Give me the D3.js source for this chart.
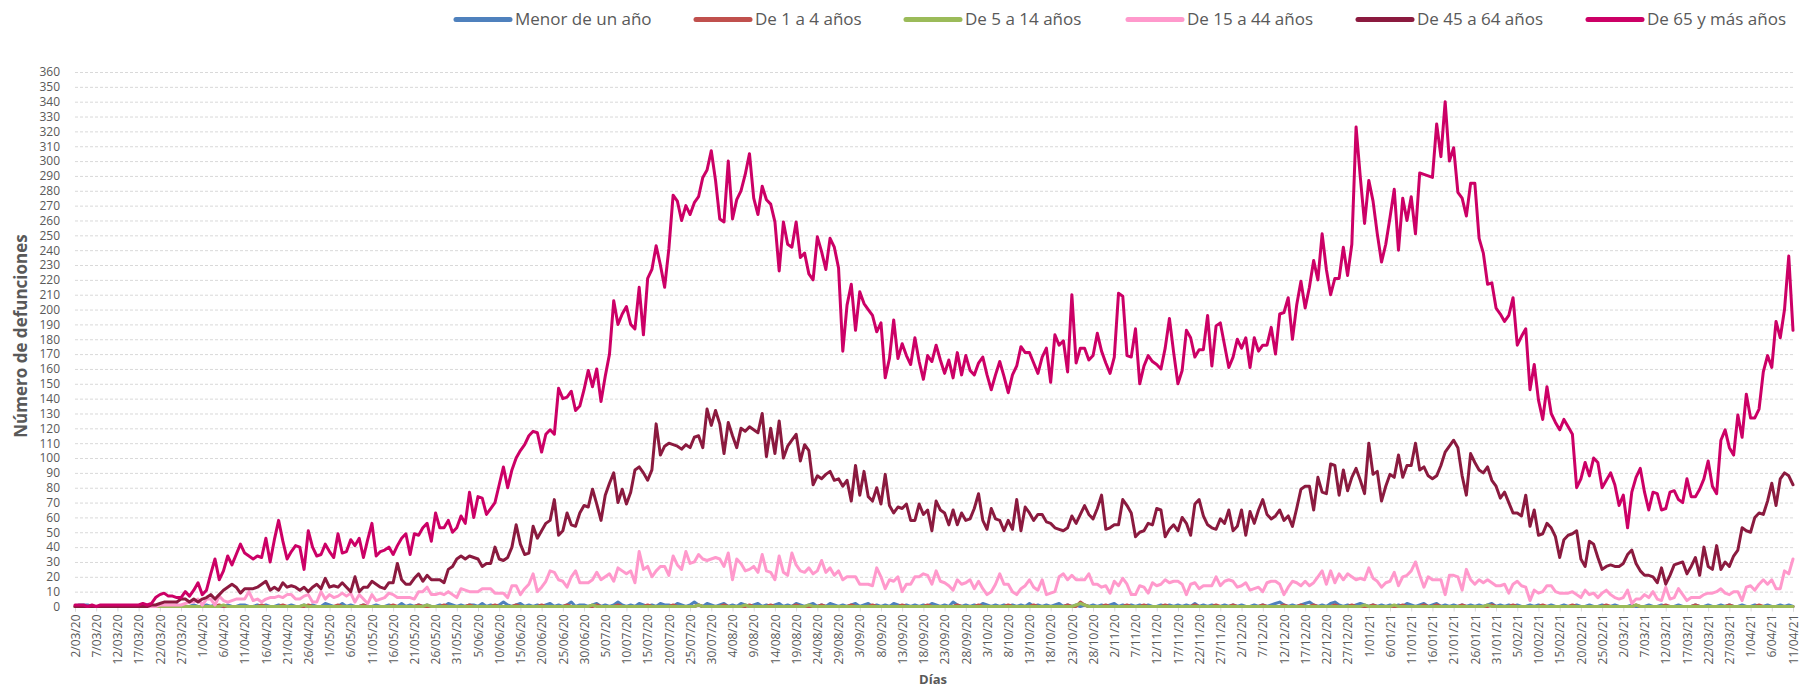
<!DOCTYPE html>
<html>
<head>
<meta charset="utf-8">
<script src="https://cdn.jsdelivr.net/npm/d3@7"></script>
<style>
  body { margin: 0; background: #fff; }
  text { font-family: "Open Sans", "Noto Sans", sans-serif; fill: #595959; }
</style>
</head>
<body>
<svg width="1801" height="687"></svg>
<script>
// first day of the series, one point per day
var startDate = new Date(2020, 2, 2);

var seriesNames = ["Menor de un año", "De 1 a 4 años", "De 5 a 14 años",
  "De 15 a 44 años", "De 45 a 64 años", "De 65 y más años"];
var seriesColors = ["#4f81bd", "#c0504d", "#9bbb59", "#ff99cc", "#8b1a3f", "#cc0066"];

var yTicks = d3.range(0, 361, 10);

var menorUnAno = [
  0,1,1,1,0,0,0,0,0,0, 0,0,0,0,0,0,0,0,0,0, 0,0,0,0,1,0,0,0,1,0, 0,1,0,1,0,0,1,0,0,1,
  1,0,0,1,0,1,0,0,1,0, 0,1,0,0,1,0,1,0,0,2, 1,0,0,2,0,1,0,0,1,0, 0,1,0,0,1,0,0,2,0,1,
  0,1,0,1,0,0,1,0,2,1, 0,1,0,1,1,0,2,0,1,0, 1,3,1,0,1,2,0,1,0,1, 0,1,2,0,1,0,1,3,0,1,
  1,0,1,2,0,1,0,1,3,1, 0,1,0,2,1,0,1,0,2,1, 1,0,2,1,0,1,3,1,0,2, 1,0,1,2,0,1,0,2,1,0,
  1,2,0,1,0,1,2,0,1,0, 2,1,0,1,2,0,1,0,2,1, 0,1,0,1,2,0,1,2,0,1, 0,1,0,2,1,0,1,0,1,0,
  1,0,2,1,0,1,0,3,1,0, 1,0,1,0,2,1,0,1,0,1, 0,1,0,1,0,2,0,1,0,1, 0,1,2,0,1,0,1,0,1,0,
  1,0,1,0,1,2,0,1,0,1, 0,1,0,1,0,0,1,0,1,0, 1,0,1,0,2,0,1,0,1,0, 0,1,0,1,0,1,0,0,1,0,
  1,0,1,2,3,1,0,1,0,1, 2,3,1,0,1,0,2,3,1,0, 1,0,1,2,1,0,1,0,1,0, 1,0,1,0,2,1,0,1,2,0,
  1,2,0,1,0,1,0,1,0,1, 0,1,0,1,2,0,1,0,1,0, 1,0,0,1,0,1,0,0,1,0, 0,1,0,0,1,0,0,1,0,0,
  1,0,0,1,0,0,0,1,0,0, 0,1,0,0,1,0,0,0,1,0, 0,0,1,0,0,1,0,0,1,0, 1,0,0,1,0,0,1,0,0,1,
  0,0,1,0,1,0
];

var de1a4 = [
  0,0,0,0,0,0,0,0,0,0, 0,0,0,0,0,0,0,0,0,0, 0,0,0,0,0,0,0,0,0,0, 0,0,0,0,1,0,0,0,0,0,
  0,0,0,0,1,0,0,0,0,1, 0,0,0,0,0,1,0,0,0,0, 0,0,1,0,0,0,0,0,1,0, 0,0,0,0,0,1,0,0,0,0,
  0,1,0,0,0,0,0,1,0,0, 0,0,0,1,0,0,0,0,0,1, 0,0,0,0,1,0,0,0,0,0, 1,0,0,0,0,0,1,0,0,0,
  0,0,0,1,0,0,0,0,1,0, 0,0,0,0,0,1,0,0,0,0, 0,1,0,0,0,0,0,1,0,0, 0,0,0,1,0,0,0,0,0,1,
  0,0,0,0,1,0,0,0,0,0, 1,0,0,0,0,0,1,0,0,0, 0,0,0,1,0,0,0,0,1,0, 0,0,0,0,0,1,0,0,0,0,
  0,1,0,0,0,0,0,0,1,0, 0,0,0,1,0,0,0,0,0,0, 1,0,0,0,0,0,1,0,0,0, 0,0,0,0,1,0,0,3,1,0,
  0,0,0,1,0,0,0,0,1,0, 0,0,1,0,0,0,0,1,0,0, 0,0,0,0,1,0,0,0,0,1, 0,0,0,1,0,0,0,0,0,0,
  1,0,0,0,0,1,0,0,0,1, 0,0,1,0,0,0,0,1,0,0, 0,1,0,0,0,0,1,0,0,0, 0,0,0,1,0,0,0,0,1,0,
  0,1,0,0,0,0,0,1,0,0, 0,0,0,0,1,0,0,0,0,1, 0,0,0,0,0,0,1,0,0,0, 0,0,0,1,0,0,0,0,0,0,
  0,1,0,0,0,0,0,0,1,0, 0,0,0,0,0,1,0,0,0,0, 0,0,1,0,0,0,0,0,0,0, 1,0,0,0,0,0,0,1,0,0,
  0,0,0,0,0,0
];

var de5a14 = [
  0,0,0,0,0,0,0,0,0,0, 0,0,0,0,0,0,0,0,0,0, 0,0,0,0,0,0,0,0,0,0, 0,0,0,0,0,1,0,0,0,0,
  0,0,0,0,0,0,0,0,0,0, 0,0,0,0,1,0,0,0,0,0, 0,0,0,0,0,0,0,0,0,0, 0,0,0,0,0,0,0,0,0,0,
  0,0,0,1,0,0,0,0,0,0, 0,0,0,0,0,0,0,0,0,0, 0,0,0,0,0,0,0,0,0,0, 0,0,0,0,0,0,0,0,0,0,
  0,0,1,0,0,0,0,0,0,0, 0,0,0,0,0,0,0,0,0,0, 0,0,0,0,0,0,0,1,0,0, 0,0,0,0,0,0,0,0,1,0,
  0,0,0,0,0,0,0,0,0,0, 0,0,0,1,0,0,0,0,0,0, 0,0,0,0,0,0,0,0,0,0, 0,0,0,0,0,0,0,0,0,0,
  0,0,0,0,0,0,0,0,0,0, 0,0,0,0,0,0,0,0,0,0, 0,0,0,0,0,0,0,0,0,0, 0,0,0,0,0,0,1,2,1,0,
  0,0,0,0,0,0,0,0,0,0, 0,0,0,0,0,0,0,0,0,0, 0,0,0,0,0,0,0,0,0,0, 0,0,0,0,0,0,0,0,0,0,
  0,0,0,0,0,0,0,0,0,0, 0,0,0,0,0,0,0,0,0,0, 0,0,0,0,1,0,0,0,0,0, 0,1,0,0,0,0,0,0,0,0,
  0,0,0,0,0,0,0,0,0,0, 0,0,0,1,0,0,0,0,0,0, 0,0,0,0,0,0,0,0,0,0, 0,0,0,0,0,0,0,0,0,0,
  0,0,0,0,0,0,0,0,1,0, 0,0,0,0,0,0,0,0,0,0, 0,0,0,0,0,0,0,0,0,0, 0,0,0,0,0,0,0,0,0,0,
  0,0,0,0,0,0
];

var de15a44 = [
  0,0,0,0,0,0,0,0,0,0, 0,0,0,0,0,0,0,0,0,0, 1,1,1,1,1,1,2,3,3,5, 1,5,5,1,7,4,3,4,5,5,
  5,10,4,5,3,5,6,6,7,6, 8,8,5,5,7,8,3,3,10,5, 8,6,7,9,7,9,3,8,5,2, 8,4,5,6,9,8,6,6,6,6,
  5,10,10,13,8,8,9,8,10,8, 6,12,11,10,10,10,12,12,12,9, 9,9,6,14,14,8,12,15,22,10, 13,17,24,23,18,17,13,20,24,16,
  16,16,18,23,18,20,22,17,26,24, 22,24,16,37,25,27,20,24,27,27, 21,34,28,25,37,29,30,35,32,31, 32,33,32,27,36,18,32,29,24,25,
  27,23,35,24,23,18,34,23,21,36, 28,24,23,26,22,24,31,23,26,21, 24,18,20,20,20,15,15,15,14,26, 20,12,18,17,20,10,15,15,20,20,
  22,21,15,24,17,16,14,11,18,15, 16,18,12,17,12,8,10,15,22,15, 15,10,8,12,14,18,13,11,18,8, 9,10,20,22,18,21,18,18,18,22,
  15,15,13,14,9,17,14,19,15,8, 8,14,13,9,16,14,15,18,16,17, 17,15,8,15,16,12,14,14,14,20, 14,17,18,17,13,14,16,11,12,13,
  10,16,17,17,15,8,13,17,16,14, 17,14,16,20,24,15,24,16,22,18, 22,20,18,19,18,26,19,17,13,16, 17,23,14,20,21,24,30,21,13,20,
  18,18,18,8,21,21,20,11,25,18, 15,18,16,18,16,14,14,15,9,15, 17,14,13,4,11,9,10,14,14,10, 9,9,9,10,8,6,11,8,9,6,
  9,11,8,6,5,6,11,2,5,5, 8,6,10,5,4,13,5,6,12,8, 4,6,6,6,8,9,9,10,12,9, 8,10,10,4,13,14,11,15,18,15,
  18,12,12,24,22,32
];

var de45a64 = [
  0,0,0,0,0,0,0,0,0,0, 0,0,0,0,0,0,0,0,1,1, 2,3,3,3,3,5,5,3,5,3, 5,6,8,5,8,11,13,15,13,9,
  12,12,12,13,15,17,11,13,11,16, 13,14,13,11,13,10,13,15,12,19, 13,14,13,16,13,10,20,10,13,13, 17,15,13,12,16,16,29,18,15,15,
  19,22,17,21,18,18,18,16,25,27, 32,34,32,34,33,32,27,29,29,40, 32,31,33,40,55,42,35,36,54,46, 51,56,58,72,48,51,63,55,54,63,
  68,67,79,69,58,75,83,90,70,79, 69,77,92,94,90,85,92,123,102,108, 110,109,108,106,109,107,114,115,107,133, 122,132,123,103,124,115,107,120,118,121,
  119,117,130,101,120,103,125,100,108,112, 116,98,109,105,82,88,86,89,91,85, 86,81,85,71,95,75,91,74,71,80, 69,89,68,63,67,66,69,58,58,69,
  62,65,51,71,65,63,55,65,55,63, 58,59,66,76,58,52,66,59,58,51, 58,52,72,51,67,63,58,62,62,57, 56,53,52,51,53,61,56,62,68,62,
  59,66,75,52,53,55,55,72,68,63, 47,50,51,56,55,66,65,47,52,55, 51,60,56,48,69,72,61,55,53,52, 59,56,65,51,54,65,48,64,56,65,
  72,62,59,61,65,58,61,54,66,79, 81,81,65,87,77,76,96,95,75,92, 78,87,93,85,76,110,89,91,71,81, 89,87,102,87,95,95,110,92,94,88,
  86,88,95,104,108,112,107,88,75,103, 97,92,90,94,85,81,73,77,70,63, 63,61,75,54,65,48,49,56,53,47, 33,45,48,49,51,32,27,44,42,33,
  25,27,28,27,27,29,35,38,29,24, 21,21,20,16,26,15,21,28,29,30, 22,27,33,21,40,27,25,41,25,30, 27,34,38,53,51,50,60,63,62,71,
  83,68,86,90,88,82
];

var de65mas = [
  1,1,1,0,1,0,1,1,1,1, 1,1,1,1,1,1,2,1,2,6, 8,9,7,7,6,6,10,7,11,16, 8,11,22,32,18,24,34,28,35,42,
  36,34,32,34,33,46,30,45,58,44, 32,37,41,40,25,51,40,34,35,42, 37,33,49,36,37,45,41,46,33,45, 56,34,37,38,40,35,41,46,49,35,
  49,48,53,56,44,63,53,53,58,50, 53,61,56,77,60,74,73,62,66,70, 82,94,80,92,100,105,109,115,118,117, 104,116,119,116,147,140,141,145,132,135,
  146,159,148,160,138,155,170,206,190,197, 202,190,187,215,183,221,227,243,230,215, 241,277,273,260,270,264,272,276,289,294, 307,287,261,259,300,261,274,280,291,305,
  275,264,283,274,271,259,226,259,244,242, 259,235,238,224,220,249,239,227,248,242, 228,172,203,217,186,212,204,200,196,185, 191,154,167,193,167,177,169,163,181,165,
  153,169,165,176,166,157,166,154,171,156, 169,159,156,164,168,156,146,156,165,155, 144,156,162,175,171,171,164,157,168,174, 151,183,176,179,158,210,164,174,174,166,
  169,184,172,164,157,168,211,209,169,168, 187,150,162,169,165,163,160,174,194,171, 150,159,186,181,168,173,173,196,162,189, 191,176,161,168,180,174,181,161,181,172,
  176,176,188,170,197,198,208,180,203,219, 201,215,233,220,251,227,210,221,221,242, 223,244,323,289,258,287,273,251,232,244, 262,281,240,275,260,276,251,292,291,290,
  289,325,303,340,300,309,279,275,263,285, 285,248,238,217,218,201,197,192,196,208, 176,182,187,146,163,139,126,148,130,124, 119,126,121,116,80,86,97,88,100,97,
  80,85,90,82,68,75,53,77,87,93, 77,65,77,76,65,66,77,78,72,70, 86,74,74,79,86,98,81,76,112,119, 107,102,129,114,143,127,127,133,158,169,
  161,192,181,200,236,186
];

var allSeries = [menorUnAno, de1a4, de5a14, de15a44, de45a64, de65mas];

var dates = de65mas.map(function (d, i) { return d3.timeDay.offset(startDate, i); });
var fmt = d3.timeFormat("%-d/%m/%y");

var svg = d3.select("svg");
var plotLeft = 75, plotRight = 1793, plotTop = 72, plotBottom = 606.5;

var x = d3.scaleLinear().domain([0, dates.length - 1]).range([plotLeft, plotRight]);
var y = d3.scaleLinear().domain([0, 360]).range([plotBottom, plotTop]);

// grid lines
var grid = svg.append("g")
  .attr("transform", "translate(" + plotLeft + ",0)")
  .call(d3.axisLeft(y).tickValues(yTicks.slice(1)).tickSize(-(plotRight - plotLeft)).tickFormat(""));
grid.select(".domain").remove();
grid.selectAll("line")
  .attr("stroke", "#d9d9d9")
  .attr("stroke-dasharray", "3,2");

// y axis labels
var yAxis = svg.append("g")
  .attr("transform", "translate(" + plotLeft + ",0)")
  .call(d3.axisLeft(y).tickValues(yTicks).tickSize(0).tickPadding(15));
yAxis.select(".domain").remove();
yAxis.selectAll("text")
  .style("font-size", "12px")
  .style("fill", "#595959");

// x axis
var xAxis = svg.append("g")
  .attr("transform", "translate(0," + plotBottom + ")")
  .call(d3.axisBottom(x)
    .tickValues(d3.range(0, dates.length, 5))
    .tickSizeOuter(0)
    .tickSize(5)
    .tickFormat(function (i) { return fmt(dates[i]); }));
xAxis.select(".domain").attr("stroke", "#d9d9d9");
xAxis.selectAll("line").attr("stroke", "#d9d9d9");
xAxis.selectAll("text")
  .attr("transform", "rotate(-90)")
  .attr("text-anchor", "end")
  .attr("x", -8)
  .attr("y", 0)
  .attr("dy", "0.35em")
  .style("font-size", "12px")
  .style("fill", "#595959");

// lines
var line = d3.line()
  .x(function (d, i) { return x(i); })
  .y(function (d) { return y(d); });

svg.append("g")
  .selectAll("path")
  .data(allSeries)
  .enter()
  .append("path")
  .attr("d", line)
  .attr("fill", "none")
  .attr("stroke", function (d, i) { return seriesColors[i]; })
  .attr("stroke-width", 3)
  .attr("stroke-linejoin", "round")
  .attr("stroke-linecap", "round");

// axis titles
svg.append("text")
  .attr("text-anchor", "middle")
  .attr("transform", "translate(27,336)rotate(-90)")
  .style("font-size", "17px")
  .style("font-weight", "bold")
  .text("Número de defunciones");

svg.append("text")
  .attr("x", 933)
  .attr("y", 684)
  .attr("text-anchor", "middle")
  .style("font-size", "13px")
  .style("font-weight", "bold")
  .text("Días");

// legend
var legendX = [456, 696, 906, 1128, 1358, 1588];
var legend = svg.append("g")
  .selectAll("g")
  .data(seriesNames)
  .enter()
  .append("g")
  .attr("transform", function (d, i) { return "translate(" + legendX[i] + ",19.5)"; });

legend.append("line")
  .attr("x1", 0)
  .attr("x2", 54)
  .attr("stroke", function (d, i) { return seriesColors[i]; })
  .attr("stroke-width", 5)
  .attr("stroke-linecap", "round");

legend.append("text")
  .attr("x", 59)
  .attr("dy", "0.35em")
  .style("font-size", "17px")
  .text(function (d) { return d; });
</script>
</body>
</html>
